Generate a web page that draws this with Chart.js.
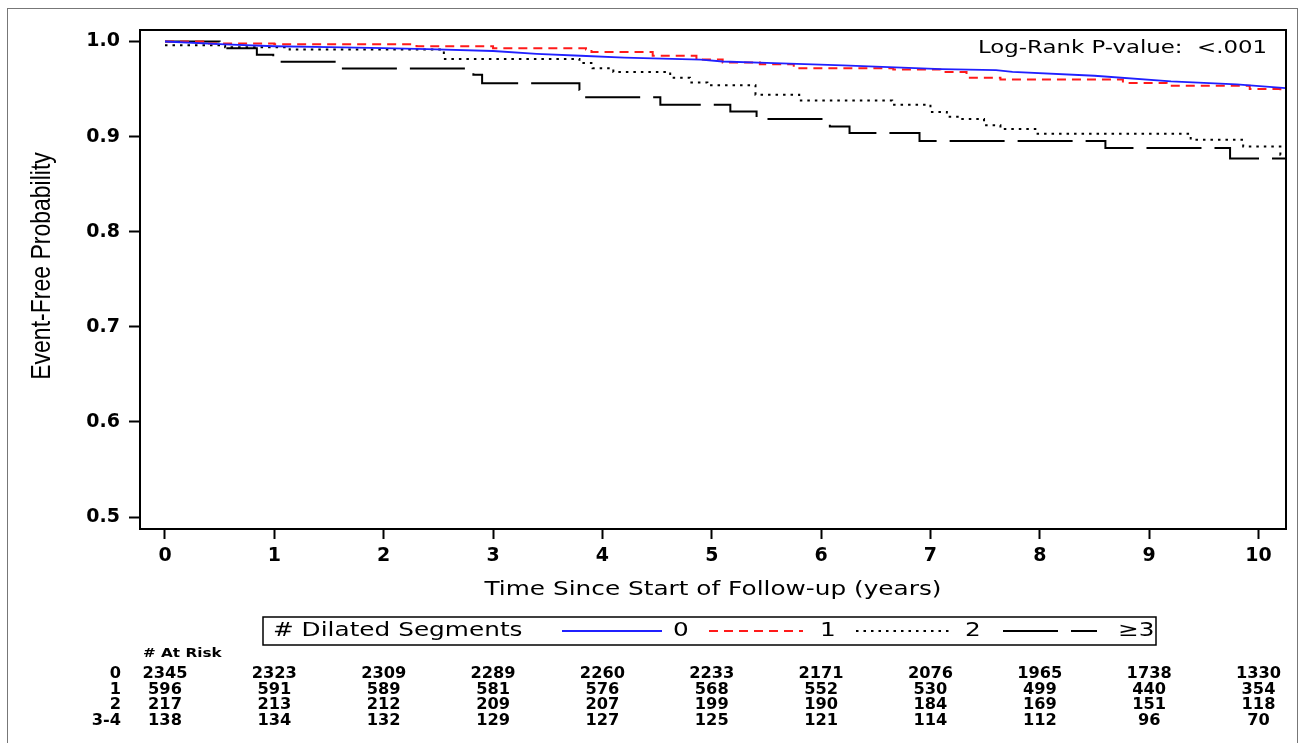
<!DOCTYPE html>
<html>
<head>
<meta charset="utf-8">
<title>Event-Free Probability by Dilated Segments</title>
<script src="https://cdn.jsdelivr.net/npm/chart.js@4.4.1/dist/chart.umd.min.js"></script>
<style>
  html, body { margin: 0; padding: 0; background: #fff; }
  canvas { display: block; }
</style>
</head>
<body>
<canvas id="km" width="1306" height="743"></canvas>
<script>
// Kaplan-Meier estimates (time in years, event-free probability)
const time0 = [0, 0.55, 1.0, 1.5, 2.0, 2.4, 3.0, 3.4, 3.8, 4.2, 4.9, 5.1, 5.5, 6.2, 7.1, 7.6, 7.75, 8.5, 9.2, 9.8, 10.25];
const surv0 = [1.0, 0.997, 0.995, 0.994, 0.993, 0.992, 0.990, 0.987, 0.985, 0.983, 0.981, 0.979, 0.9775, 0.975, 0.971, 0.970, 0.968, 0.964, 0.958, 0.955, 0.951];

const time1 = [0, 0.35, 1.0, 2.3, 3.0, 3.85, 3.9, 4.46, 4.86, 5.1, 5.44, 5.75, 6.66, 7.09, 7.33, 7.64, 8.76, 9.16, 9.92, 10.2, 10.25];
const surv1 = [1.0, 0.998, 0.997, 0.995, 0.993, 0.9916, 0.989, 0.985, 0.981, 0.978, 0.976, 0.972, 0.9705, 0.968, 0.962, 0.960, 0.9565, 0.9535, 0.950, 0.9486, 0.9486];

const time2 = [0, 0.55, 1.14, 2.55, 3.79, 3.91, 4.1, 4.62, 4.8, 4.96, 5.4, 5.8, 6.65, 7.0, 7.15, 7.27, 7.49, 7.64, 7.98, 9.38, 9.86, 10.2, 10.25];
const surv2 = [0.996, 0.994, 0.9916, 0.9817, 0.9775, 0.972, 0.968, 0.962, 0.957, 0.954, 0.944, 0.938, 0.9335, 0.926, 0.921, 0.9185, 0.912, 0.908, 0.903, 0.8966, 0.8896, 0.881, 0.881];

const time3 = [0, 0.5, 0.84, 0.99, 1.57, 2.82, 2.9, 3.79, 3.84, 4.53, 5.17, 5.41, 6.08, 6.26, 6.9, 8.6, 9.74, 10.25];
const surv3 = [1.0, 0.993, 0.986, 0.9786, 0.9715, 0.965, 0.956, 0.949, 0.9413, 0.9335, 0.9265, 0.9185, 0.9107, 0.9037, 0.8955, 0.888, 0.877, 0.877];

const groupLabels = ['0', '1', '2', '\u22653'];
const xTicks = [0, 1, 2, 3, 4, 5, 6, 7, 8, 9, 10];
const yTicks = [0.5, 0.6, 0.7, 0.8, 0.9, 1.0];

// number at risk at each whole year
const riskRows = ['0', '1', '2', '3-4'];
const atRisk0 = [2345, 2323, 2309, 2289, 2260, 2233, 2171, 2076, 1965, 1738, 1330];
const atRisk1 = [596, 591, 589, 581, 576, 568, 552, 530, 499, 440, 354];
const atRisk2 = [217, 213, 212, 209, 207, 199, 190, 184, 169, 151, 118];
const atRisk3 = [138, 134, 132, 129, 127, 125, 121, 114, 112, 96, 70];

const toPoints = (ts, ss) => ts.map((t, i) => ({ x: t, y: ss[i] }));

// the source figure is a little wider than tall, so the text is stretched sideways
const STRETCH = 1.27;
function wideText(ctx, text, x, y, align, k = STRETCH) {
  const w = ctx.measureText(text).width * k;
  let x0 = x;
  if (align === 'center') x0 = x - w / 2;
  else if (align === 'right') x0 = x - w;
  ctx.save();
  ctx.translate(x0, y);
  ctx.scale(k, 1);
  ctx.textAlign = 'left';
  ctx.fillText(text, 0, 0);
  ctx.restore();
}

const decorations = {
  id: 'decorations',
  afterDraw(chart) {
    const { ctx, chartArea: a, scales: { x } } = chart;
    ctx.save();

    // frame around the plot area
    ctx.strokeStyle = '#000';
    ctx.lineWidth = 2;
    ctx.strokeRect(a.left, a.top, a.right - a.left, a.bottom - a.top);

    // thin outer border of the figure
    ctx.strokeStyle = '#777';
    ctx.lineWidth = 1;
    ctx.strokeRect(7.5, 8.5, 1290, 760);

    ctx.fillStyle = '#000';
    ctx.textBaseline = 'middle';

    ctx.font = '18px "DejaVu Sans"';
    wideText(ctx, 'Log-Rank P-value:  <.001', 978, 48, 'left');

    ctx.font = '19.5px "DejaVu Sans"';
    wideText(ctx, 'Time Since Start of Follow-up (years)', (a.left + a.right) / 2, 590, 'center');

    // y axis title (stretched across, so the glyphs look tall and narrow)
    ctx.save();
    ctx.translate(42, 266);
    ctx.scale(1.2, 1);
    ctx.rotate(-Math.PI / 2);
    ctx.font = '23px "Liberation Sans"';
    ctx.textAlign = 'center';
    ctx.fillText('Event-Free Probability', 0, 0);
    ctx.restore();

    // legend box
    ctx.strokeStyle = '#000';
    ctx.lineWidth = 1.5;
    ctx.strokeRect(263, 617, 893, 28);
    ctx.font = '19.5px "DejaVu Sans"';
    wideText(ctx, '# Dilated Segments', 273, 631, 'left');

    const sampleX = [[562, 662, 673], [709, 803, 820], [856, 953, 965], [1003, 1097, 1118]];
    chart.data.datasets.forEach((ds, i) => {
      const [x1, x2, tx] = sampleX[i];
      ctx.save();
      ctx.strokeStyle = ds.borderColor;
      ctx.lineWidth = ds.borderWidth;
      ctx.setLineDash(ds.borderDash || []);
      ctx.beginPath();
      ctx.moveTo(x1, 631);
      ctx.lineTo(x2, 631);
      ctx.stroke();
      ctx.restore();
      wideText(ctx, ds.label, tx, 631, 'left');
    });

    // number at risk table, columns on the x axis ticks
    ctx.font = 'bold 12px "DejaVu Sans"';
    wideText(ctx, '# At Risk', 143, 654, 'left');
    ctx.font = 'bold 15px "DejaVu Sans"';
    const rows = [atRisk0, atRisk1, atRisk2, atRisk3];
    const rowY = [674, 690, 705, 721];
    rows.forEach((row, r) => {
      wideText(ctx, riskRows[r], 121, rowY[r], 'right', 1.08);
      row.forEach((n, i) => {
        wideText(ctx, String(n), x.getPixelForValue(xTicks[i]), rowY[r], 'center', 1.08);
      });
    });

    ctx.restore();
  }
};

new Chart(document.getElementById('km'), {
  type: 'line',
  data: {
    datasets: [
      { label: groupLabels[0], data: toPoints(time0, surv0), borderColor: '#2020ff', borderWidth: 1.8, stepped: false },
      { label: groupLabels[1], data: toPoints(time1, surv1), borderColor: '#ff1a1a', borderWidth: 2, borderDash: [9, 6], stepped: true },
      { label: groupLabels[2], data: toPoints(time2, surv2), borderColor: '#000', borderWidth: 2, borderDash: [2.5, 5], stepped: true },
      { label: groupLabels[3], data: toPoints(time3, surv3), borderColor: '#000', borderWidth: 2, borderDash: [55, 13], stepped: true }
    ]
  },
  options: {
    responsive: false,
    animation: false,
    devicePixelRatio: 1,
    events: [],
    layout: { padding: { top: 30, right: 20, left: 0, bottom: 0 } },
    elements: { point: { radius: 0 }, line: { tension: 0, fill: false } },
    plugins: { legend: { display: false }, tooltip: { enabled: false } },
    scales: {
      x: {
        type: 'linear',
        min: -0.2286,
        max: 10.2515,
        afterBuildTicks: s => { s.ticks = xTicks.map(v => ({ value: v })); },
        afterFit: s => { s.height = 214; },
        grid: { drawOnChartArea: false, drawTicks: true, tickLength: 10, tickWidth: 2, tickColor: '#000' },
        border: { display: true, color: '#000', width: 2 },
        ticks: { color: '#000', padding: 6, maxRotation: 0, font: { family: 'DejaVu Sans', size: 19, weight: 'bold' }, callback: v => String(v) }
      },
      y: {
        type: 'linear',
        min: 0.4874,
        max: 1.0121,
        afterBuildTicks: s => { s.ticks = yTicks.map(v => ({ value: v })); },
        afterFit: s => { s.width = 140; },
        grid: { drawOnChartArea: false, drawTicks: true, tickLength: 11, tickWidth: 2, tickColor: '#000' },
        border: { display: true, color: '#000', width: 2 },
        ticks: { color: '#000', padding: 9, font: { family: 'DejaVu Sans', size: 19, weight: 'bold' }, callback: v => v.toFixed(1) }
      }
    }
  },
  plugins: [decorations]
});
</script>
</body>
</html>
